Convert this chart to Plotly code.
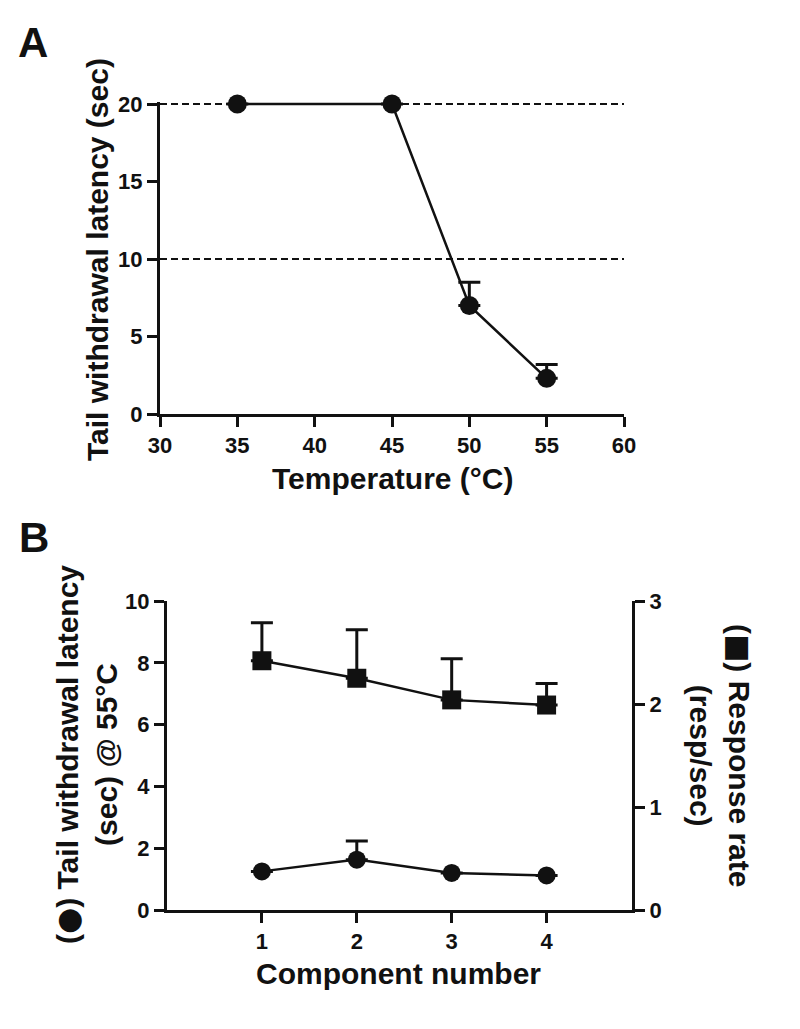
import plotly.graph_objects as go

# ---------------- data ----------------
# Panel A
temperature = [35, 45, 50, 55]
latency_a = [20.0, 20.0, 7.0, 2.3]
latency_a_err = [None, None, 1.5, 0.9]
cutoff_levels = [20, 10]
temp_ticks = [30, 35, 40, 45, 50, 55, 60]
lat_ticks_a = [0, 5, 10, 15, 20]

# Panel B
component = [1, 2, 3, 4]
latency_b = [1.25, 1.63, 1.2, 1.12]
latency_b_err = [None, 0.6, None, None]
resp_rate = [2.42, 2.25, 2.04, 1.99]
resp_rate_err = [0.37, 0.47, 0.40, 0.21]
comp_ticks = [1, 2, 3, 4]
lat_ticks_b = [0, 2, 4, 6, 8, 10]
rate_ticks = [0, 1, 2, 3]

# ---------------- styling ----------------
W, H = 800, 1029
FONT = "Liberation Sans"
BLACK = "#111111"


def fx(px):
    return px / W


def fy(py):
    return 1 - py / H


tickfont = dict(family=FONT, size=22, color=BLACK, weight="bold")
axis_common = dict(
    showline=True, linewidth=3, linecolor=BLACK, mirror=False,
    ticks="outside", ticklen=10, tickwidth=3, tickcolor=BLACK,
    showgrid=False, zeroline=False, tickfont=tickfont, fixedrange=True,
    automargin=False,
)

fig = go.Figure()

# Panel A dashed reference lines
for lvl in cutoff_levels:
    fig.add_trace(go.Scatter(
        x=[temp_ticks[0], temp_ticks[-1]], y=[lvl, lvl], mode="lines",
        line=dict(color=BLACK, width=2.2, dash="7px,4px"),
        xaxis="x", yaxis="y", showlegend=False, hoverinfo="skip", cliponaxis=False,
    ))

fig.add_trace(go.Scatter(
    x=temperature, y=latency_a, mode="lines+markers",
    line=dict(color=BLACK, width=2.5),
    marker=dict(symbol="circle", size=19, color=BLACK),
    error_y=dict(type="data", array=latency_a_err, symmetric=False,
                 arrayminus=[0] * len(latency_a), color=BLACK, thickness=3, width=11),
    xaxis="x", yaxis="y", showlegend=False, cliponaxis=False,
))

# Panel B
fig.add_trace(go.Scatter(
    x=component, y=latency_b, mode="lines+markers",
    line=dict(color=BLACK, width=2.5),
    marker=dict(symbol="circle", size=18, color=BLACK),
    error_y=dict(type="data", array=latency_b_err, symmetric=False,
                 arrayminus=[0] * len(latency_b), color=BLACK, thickness=3, width=11),
    xaxis="x2", yaxis="y2", showlegend=False, cliponaxis=False,
))
fig.add_trace(go.Scatter(
    x=component, y=resp_rate, mode="lines+markers",
    line=dict(color=BLACK, width=2.5),
    marker=dict(symbol="square", size=19, color=BLACK),
    error_y=dict(type="data", array=resp_rate_err, symmetric=False,
                 arrayminus=[0] * len(resp_rate), color=BLACK, thickness=3, width=11),
    xaxis="x2", yaxis="y3", showlegend=False, cliponaxis=False,
))

fig.update_layout(
    width=W, height=H,
    margin=dict(l=0, r=0, t=0, b=0, autoexpand=False),
    paper_bgcolor="white", plot_bgcolor="white",
    showlegend=False,
    xaxis=dict(axis_common, domain=[fx(160), fx(624)], range=[30, 60],
               tickvals=temp_ticks, anchor="y"),
    # small headroom above 20 so the dashed 20-line is not clipped
    yaxis=dict(axis_common, domain=[fy(414), fy(102)], range=[0, 20.13],
               tickvals=lat_ticks_a, anchor="x"),
    xaxis2=dict(axis_common, domain=[fx(167), fx(632)], range=[0, 4.9],
                tickvals=comp_ticks, anchor="y2"),
    yaxis2=dict(axis_common, domain=[fy(910), fy(601)], range=[0, 10],
                tickvals=lat_ticks_b, anchor="x2"),
    yaxis3=dict(axis_common, domain=[fy(910), fy(601)], range=[0, 3],
                tickvals=rate_ticks, anchor="x2", overlaying="y2", side="right"),
)

title_font = dict(family=FONT, size=30, color=BLACK, weight="bold")
panel_font = dict(family=FONT, size=42, color=BLACK, weight="bold")

circle_glyph = '<span style="font-family:DejaVu Sans;font-weight:normal">●</span>'
square_glyph = '<span style="font-family:DejaVu Sans;font-weight:normal">■</span>'

annotations = [
    dict(text="A", x=fx(33), y=fy(43), font=panel_font),
    dict(text="B", x=fx(34), y=fy(537), font=panel_font),
    dict(text="Temperature (°C)", x=fx(392), y=fy(479), font=title_font),
    dict(text="Tail withdrawal latency (sec)", x=fx(97), y=fy(260),
         font=title_font, textangle=-90),
    dict(text="Component number", x=fx(398), y=fy(973), font=title_font),
    dict(text=f"({circle_glyph}) Tail withdrawal latency<br>(sec) @ 55°C",
         x=fx(86), y=fy(755), font=title_font, textangle=-90),
    dict(text=f"({square_glyph}) Response rate<br>(resp/sec)", x=fx(721), y=fy(755),
         font=title_font, textangle=90),
]
for a in annotations:
    a.update(xref="paper", yref="paper", showarrow=False,
             xanchor="center", yanchor="middle")
fig.update_layout(annotations=annotations)

fig.write_html("out.html", config={"displayModeBar": False},
               post_script="document.body.style.margin='0';document.body.style.padding='0';")
